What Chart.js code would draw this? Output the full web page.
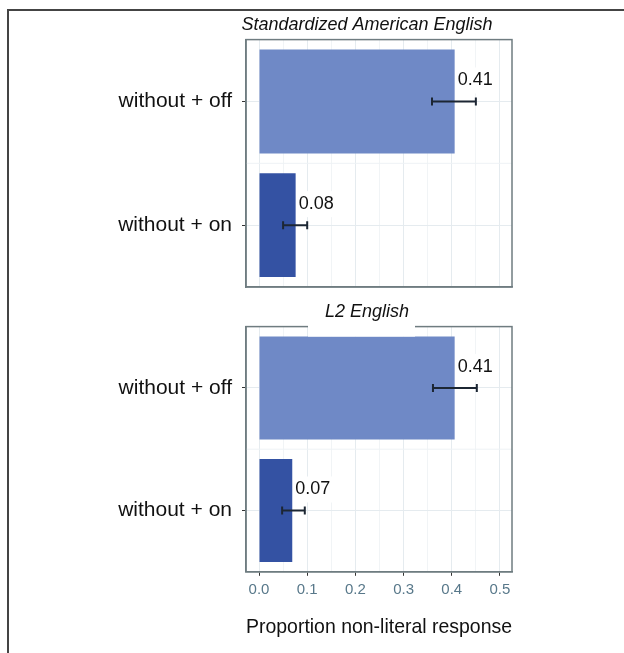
<!DOCTYPE html>
<html>
<head>
<meta charset="utf-8">
<script src="https://cdn.jsdelivr.net/npm/chart.js@4.4.0/dist/chart.umd.min.js"></script>
<style>
  html, body { margin: 0; padding: 0; background: #fff; }
  body { width: 624px; height: 653px; position: relative; overflow: hidden; }
  #frame { position: absolute; left: 7px; top: 9px; width: 640px; height: 660px;
           border-left: 2px solid #444; border-top: 2px solid #444; }
  .panel { position: absolute; left: 110px; width: 514px; }
  #top-wrap { top: 0; height: 300px; }
  #bottom-wrap { top: 300px; height: 353px; }
</style>
</head>
<body>
<div id="frame"></div>
<div class="panel" id="top-wrap"><canvas id="sae-chart"></canvas></div>
<div class="panel" id="bottom-wrap"><canvas id="l2-chart"></canvas></div>
<script>
// Categories and values
const categories = ['without + off', 'without + on'];
const barColors = ['#6f89c6', '#3452a3'];

const saeValues = [0.406, 0.076];
const saeErrLow = [0.359, 0.050];
const saeErrHigh = [0.450, 0.100];

const l2Values = [0.406, 0.069];
const l2ErrLow = [0.361, 0.048];
const l2ErrHigh = [0.452, 0.095];

const xTicks = [0, 0.05, 0.1, 0.15, 0.2, 0.25, 0.3, 0.35, 0.4, 0.45, 0.5];
const X_MIN = -0.027;
const X_MAX = 0.525;

const FONT = 'Arial, "Liberation Sans", sans-serif';
const PANEL_BORDER = '#6f7c80';

function isMajor(v) {
    return Math.abs(v * 10 - Math.round(v * 10)) < 1e-6;
}

// error bars, value labels, panel frame and the minor horizontal grid line
const decorations = {
    id: 'decorations',
    afterLayout(chart) {
        // the panel titles sit a little left of the plot centre in the original
        if (chart.titleBlock) chart.titleBlock.left = 112;
    },
    beforeDatasetsDraw(chart) {
        const { ctx, chartArea, scales } = chart;
        const y0 = scales.y.getPixelForValue(0);
        const y1 = scales.y.getPixelForValue(1);
        ctx.save();
        ctx.strokeStyle = '#eef2f5';
        ctx.lineWidth = 1;
        ctx.beginPath();
        ctx.moveTo(chartArea.left, (y0 + y1) / 2);
        ctx.lineTo(chartArea.right, (y0 + y1) / 2);
        ctx.stroke();
        ctx.restore();
    },
    afterDatasetsDraw(chart, args, opts) {
        const { ctx, chartArea, scales } = chart;
        const meta = chart.getDatasetMeta(0);
        const values = chart.data.datasets[0].data;
        ctx.save();
        meta.data.forEach((bar, i) => {
            const y = bar.y;
            const xl = scales.x.getPixelForValue(opts.low[i]);
            const xh = scales.x.getPixelForValue(opts.high[i]);
            ctx.strokeStyle = '#1c2633';
            ctx.lineWidth = 2;
            ctx.beginPath();
            ctx.moveTo(xl, y); ctx.lineTo(xh, y);
            ctx.moveTo(xl, y - 4); ctx.lineTo(xl, y + 4);
            ctx.moveTo(xh, y - 4); ctx.lineTo(xh, y + 4);
            ctx.stroke();

            const text = values[i].toFixed(2);
            ctx.font = '18px ' + FONT;
            const w = ctx.measureText(text).width;
            const tx = scales.x.getPixelForValue(values[i]) + 2;
            const ty = y - 21;
            ctx.fillStyle = '#fff';
            ctx.fillRect(tx - 1, ty - 13, w + 4, 26);
            ctx.fillStyle = '#111';
            ctx.textBaseline = 'middle';
            ctx.textAlign = 'left';
            ctx.fillText(text, tx + 1, ty);
        });
        ctx.strokeStyle = PANEL_BORDER;
        ctx.lineWidth = 1.5;
        ctx.strokeRect(chartArea.left, chartArea.top,
            chartArea.right - chartArea.left, chartArea.bottom - chartArea.top);
        // white strip under the lower panel's title, as in the original
        if (opts.titlePatch) {
            ctx.fillStyle = '#fff';
            ctx.fillRect(chartArea.left + 62, chartArea.top - 3, 107, 13);
        }
        ctx.restore();
    }
};

function makeChart(canvasId, title, values, low, high, showX, padding, titlePad) {
    const ctx = document.getElementById(canvasId).getContext('2d');
    return new Chart(ctx, {
        type: 'bar',
        data: {
            labels: categories,
            datasets: [{
                data: values,
                backgroundColor: barColors,
                borderWidth: 0,
                barPercentage: 0.84,
                categoryPercentage: 1
            }]
        },
        options: {
            indexAxis: 'y',
            responsive: true,
            maintainAspectRatio: false,
            animation: false,
            devicePixelRatio: 1,
            layout: { padding: padding },
            scales: {
                x: {
                    min: X_MIN,
                    max: X_MAX,
                    afterBuildTicks: (scale) => { scale.ticks = xTicks.map(v => ({ value: v })); },
                    grid: {
                        color: (c) => isMajor(c.tick.value) ? '#e5ebef' : '#f1f4f6',
                        lineWidth: 1,
                        drawTicks: showX,
                        tickLength: 4,
                        tickColor: (c) => isMajor(c.tick.value) ? '#333' : 'rgba(0,0,0,0)'
                    },
                    border: { display: true, color: PANEL_BORDER, width: 1.5 },
                    ticks: {
                        display: showX,
                        autoSkip: false,
                        maxRotation: 0,
                        padding: 5,
                        color: '#58788a',
                        font: { family: FONT, size: 15 },
                        callback: (v) => isMajor(v) ? Number(v).toFixed(1) : ''
                    },
                    title: {
                        display: showX,
                        text: 'Proportion non-literal response',
                        color: '#111',
                        font: { family: FONT, size: 21 },
                        padding: { top: 11, bottom: 4 }
                    }
                },
                y: {
                    afterFit: (scale) => {
                        scale.width = 136;
                        // labels sit at bar centres, so no edge padding is needed
                        scale.paddingTop = 0;
                        scale.paddingBottom = 0;
                    },
                    grid: {
                        offset: false,
                        color: '#e5ebef',
                        tickLength: 4,
                        tickColor: '#333'
                    },
                    border: { display: true, color: PANEL_BORDER, width: 1.5 },
                    ticks: {
                        padding: 10,
                        color: '#111',
                        font: { family: FONT, size: 21 }
                    }
                }
            },
            plugins: {
                legend: { display: false },
                tooltip: { enabled: false },
                title: {
                    display: true,
                    text: title,
                    color: '#111',
                    font: { family: FONT, size: 18, style: 'italic', weight: 'normal' },
                    padding: titlePad
                },
                decorations: { low: low, high: high, titlePatch: showX }
            }
        },
        plugins: [decorations]
    });
}

makeChart('sae-chart', 'Standardized American English', saeValues, saeErrLow, saeErrHigh,
    false, { top: 10, right: 112, bottom: 13, left: 0 }, { top: 4, bottom: 4 });
makeChart('l2-chart', 'L2 English', l2Values, l2ErrLow, l2ErrHigh,
    true, { top: 0, right: 112, bottom: 9, left: 0 }, { top: 1, bottom: 4 });
</script>
</body>
</html>
